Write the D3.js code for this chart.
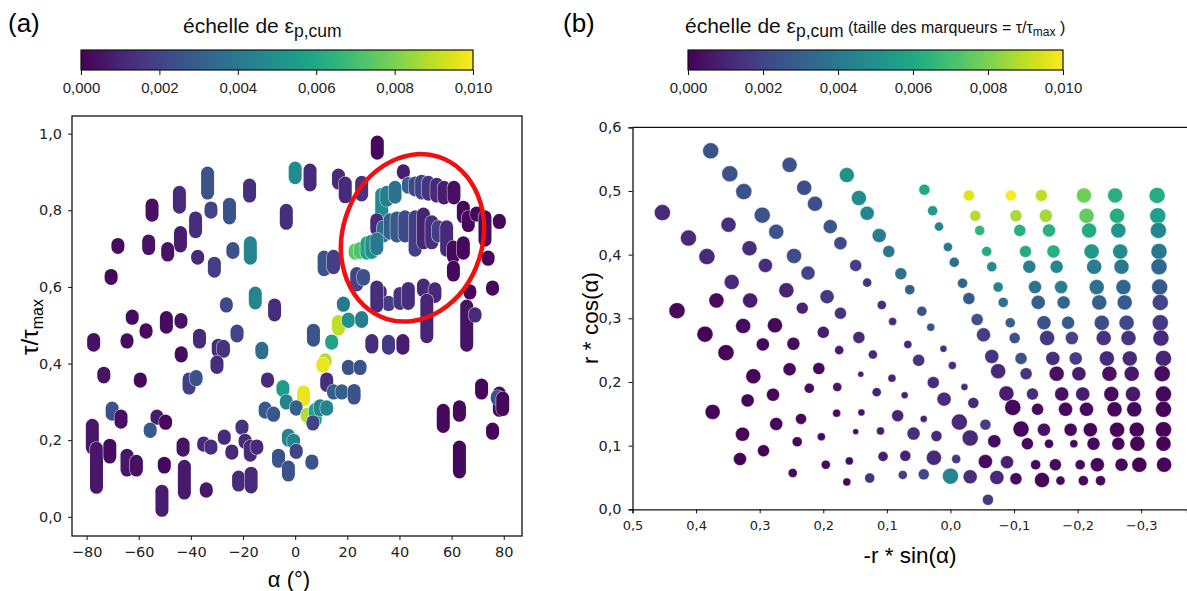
<!DOCTYPE html>
<html><head><meta charset="utf-8">
<script src="https://cdn.jsdelivr.net/npm/d3@7"></script>
<style>body{margin:0;background:#fff} svg{display:block}</style>
</head><body><svg id="c" width="1187" height="591"></svg>
<script>
// ---------- Panel (a): alpha vs tau/tau_max, each entry is a vertical run of markers ----------
const alphaA = [0.0,5.7,-33.6,-17.5,-44.4,-54.9,-32.3,-25.2,-3.4,-38.2,-44.0,-68.0,-56.2,-48.9,-23.9,-17.2,-37.4,-31.0,-70.6,-15.3,
 -26.4,-7.9,-62.5,-49.4,-43.8,-57.2,-77.3,-64.5,-36.7,-43.7,-29.5,-27.5,-22.3,-12.8,-30.0,-73.4,-59.4,-40.7,-38.0,-10.6,
 -4.7,-3.4,3.2,-11.5,-8.3,0.4,4.6,7.7,6.8,-70.2,-66.8,-53.0,-55.6,-49.7,-77.8,-76.2,-71.1,-64.5,-60.9,-50.2,
 -51.1,-43.0,-42.5,-35.1,-32.3,-34.1,-27.2,-24.3,-20.4,-19.2,-17.2,-14.7,-21.7,-16.9,-6.4,-2.6,-2.6,-0.6,0.4,6.4,
 7.0,16.6,14.0,11.5,10.6,12.1,14.7,17.9,20.4,24.9,22.6,29.4,35.8,41.3,9.6,12.1,56.8,63.0,63.0,71.5,
 75.7,78.3,77.5,79.6,31.5,16.6,19.2,25.5,41.5,33.2,35.1,38.3,43.4,46.0,48.5,51.1,54.3,57.1,60.9,64.5,
 66.4,69.6,72.8,78.3,74.0,31.3,33.8,36.4,39.0,42.1,46.0,49.2,52.4,54.9,58.1,60.7,60.7,64.5,23.0,24.9,
 27.5,29.4,31.3,23.6,26.2,32.6,35.8,40.2,43.4,49.2,53.6,50.5,65.8,67.0,75.7,69.0,20.4,25.5,18.5,11.1,14.7,31.3];
const tauLoA = [.885,.866,.845,.837,.808,.787,.795,.780,.766,.744,.707,.703,.700,.683,.690,.675,.675,.641,.622,.558,
 .550,.527,.518,.495,.508,.482,.448,.456,.456,.420,.432,.432,.472,.428,.390,.365,.354,.336,.358,.354,
 .330,.297,.305,.273,.265,.281,.262,.252,.242,.268,.247,.257,.223,.244,.180,.077,.156,.122,.122,.130,
 .017,.174,.062,.187,.179,.067,.205,.166,.231,.194,.161,.179,.083,.078,.145,.109,.200,.194,.168,.140,
 .461,.490,.453,.404,.393,.343,.323,.323,.387,.387,.310,.443,.440,.440,.280,.281,.236,.265,.117,.323,
 .218,.278,.308,.280,.949,.871,.835,.840,.897,.792,.826,.834,.860,.853,.845,.842,.837,.832,.832,.783,
 .760,.787,.722,.768,.672,.750,.733,.740,.733,.733,.696,.715,.715,.733,.696,.678,.631,.688,.688,.690,
 .688,.690,.700,.605,.620,.583,.554,.557,.557,.590,.575,.470,.448,.584,.594,.524,.510,.510,.552,.645,.650,.550];
const tauHiA = [.910,.905,.897,.866,.847,.814,.806,.816,.800,.780,.742,.711,.720,.700,.700,.715,.680,.662,.630,.584,
 .556,.553,.524,.520,.515,.488,.463,.462,.474,.428,.448,.445,.485,.440,.404,.375,.360,.360,.366,.360,
 .340,.303,.326,.284,.271,.287,.268,.280,.248,.284,.263,.263,.229,.250,.239,.179,.187,.161,.145,.140,
 .067,.190,.132,.193,.185,.073,.211,.172,.237,.200,.184,.185,.104,.114,.161,.130,.213,.200,.174,.146,
 .487,.510,.459,.410,.399,.360,.329,.329,.393,.393,.330,.460,.458,.460,.290,.287,.278,.287,.182,.344,
 .229,.323,.314,.310,.978,.892,.871,.873,.903,.842,.847,.860,.870,.871,.876,.873,.868,.860,.860,.808,
 .783,.793,.783,.774,.678,.775,.757,.775,.780,.783,.783,.790,.770,.757,.757,.704,.651,.715,.696,.700,
 .715,.720,.725,.635,.630,.589,.560,.583,.596,.605,.595,.565,.550,.590,.600,.530,.516,.520,.558,.678,.680,.600];
const epsA = [.0048,.0012,.0025,.0014,.0012,.0004,.0020,.0025,.0013,.0013,.0008,.0003,.0005,.0005,.0025,.0045,.0012,.0018,.0002,.0045,
 .0022,.0013,.0003,.0003,.0005,.0003,.0004,.0003,.0012,.0003,.0013,.0015,.0020,.0035,.0013,.0005,.0002,.0018,.0025,.0012,
 .0055,.0045,.0097,.0028,.0027,.0030,.0088,.0058,.0020,.0025,.0004,.0008,.0028,.0002,.0006,.0006,.0003,.0006,.0004,.0002,
 .0008,.0005,.0007,.0012,.0014,.0006,.0012,.0012,.0015,.0012,.0012,.0012,.0012,.0012,.0025,.0025,.0045,.0045,.0020,.0025,
 .0025,.0090,.0058,.0088,.0097,.0013,.0030,.0030,.0025,.0025,.0025,.0013,.0017,.0008,.0045,.0045,.0002,.0002,.0002,.0002,
 .0002,.0003,.0025,.0002,.0002,.0012,.0012,.0015,.0008,.0048,.0042,.0038,.0030,.0022,.0020,.0015,.0012,.0008,.0004,.0002,
 .0002,.0002,.0003,.0002,.0002,.0012,.0035,.0030,.0028,.0022,.0018,.0010,.0013,.0018,.0012,.0002,.0002,.0002,.0075,.0072,
 .0058,.0050,.0040,.0020,.0025,.0012,.0018,.0015,.0013,.0012,.0012,.0010,.0005,.0002,.0002,.0012,.0050,.0042,.0040,.0025,.0018,.0013];

// ---------- Panel (b): -r sin(alpha), r cos(alpha), marker size = tau/tau_max ----------
const xB = [0.377,0.253,0.163,0.347,0.041,0.230,0.144,0.325,0.028,0.453,0.213,0.131,0.296,0.349,0.018,0.189,0.274,0.112,0.412,0.173,
 0.316,0.097,0.383,0.246,0.291,0.149,0.224,0.078,0.344,0.131,0.064,0.258,0.194,0.368,0.315,0.430,0.233,0.108,0.173,0.045,
 0.091,0.031,0.326,0.276,0.386,0.200,0.144,0.295,0.247,0.067,0.353,0.175,0.122,0.050,0.310,0.253,0.207,0.141,0.092,0.027,
 0.222,0.178,0.279,0.116,0.072,0.319,0.374,0.179,0.140,0.083,0.042,0.274,0.235,0.327,0.149,0.110,0.058,0.022,0.203,0.241,
 0.294,0.331,0.106,0.071,0.026,0.159,0.196,0.248,0.127,0.075,0.042,0.163,
 -0.029,-0.095,-0.143,-0.210,-0.259,-0.325,-0.039,-0.103,-0.150,-0.214,-0.262,-0.326,-0.046,-0.109,-0.155,-0.218,-0.264,-0.327,
 0.004,-0.057,-0.118,-0.162,-0.222,-0.267,-0.328,-0.006,-0.065,-0.124,-0.167,-0.226,-0.269,-0.328,-0.019,-0.075,-0.133,-0.174,-0.230,-0.272,-0.329,
 -0.029,-0.083,-0.138,-0.178,-0.234,-0.274,-0.330,-0.042,-0.094,-0.147,-0.185,-0.238,-0.277,-0.330,-0.052,-0.101,-0.152,-0.191,-0.241,-0.280,-0.331,
 0.011,-0.003,-0.065,-0.111,-0.161,-0.197,-0.246,-0.282,-0.335,-0.075,-0.119,-0.167,-0.202,-0.250,-0.285,-0.333,
 -0.022,0.010,-0.088,-0.129,-0.175,-0.208,-0.253,-0.287,-0.335,-0.036,-0.098,-0.137,-0.181,-0.214,-0.258,-0.289,-0.335,
 -0.014,-0.055,-0.111,-0.147,-0.189,-0.220,-0.262,-0.293,-0.335,-0.031,-0.069,-0.121,-0.155,-0.194,-0.225,-0.264,-0.294,-0.335,
 -0.009,-0.055,-0.089,-0.134,-0.165,-0.204,-0.231,-0.269,-0.297,-0.336,0.000,-0.031,-0.073,-0.103,-0.144,-0.173,-0.209,-0.236,-0.059];
const yB = [0.563,0.541,0.525,0.527,0.502,0.505,0.489,0.499,0.469,0.466,0.480,0.465,0.462,0.447,0.444,0.444,0.436,0.430,0.426,0.418,
 0.410,0.405,0.397,0.398,0.383,0.383,0.371,0.370,0.357,0.356,0.345,0.344,0.334,0.328,0.328,0.312,0.316,0.321,0.308,0.311,
 0.295,0.286,0.288,0.289,0.275,0.278,0.270,0.259,0.260,0.259,0.246,0.250,0.243,0.234,0.209,0.220,0.221,0.212,0.206,0.199,
 0.190,0.192,0.180,0.184,0.179,0.171,0.153,0.151,0.152,0.147,0.142,0.134,0.142,0.118,0.122,0.123,0.119,0.115,0.114,0.106,
 0.092,0.079,0.083,0.084,0.081,0.076,0.070,0.057,0.049,0.054,0.055,0.043,
 0.493,0.493,0.493,0.493,0.493,0.493,0.461,0.461,0.461,0.461,0.461,0.461,0.438,0.438,0.438,0.438,0.438,0.438,
 0.412,0.405,0.405,0.405,0.405,0.405,0.405,0.388,0.381,0.381,0.381,0.381,0.381,0.381,0.355,0.349,0.349,0.349,0.349,0.349,0.349,
 0.331,0.325,0.325,0.325,0.325,0.325,0.325,0.298,0.293,0.293,0.293,0.293,0.293,0.293,0.274,0.269,0.269,0.269,0.269,0.269,0.269,
 0.252,0.226,0.240,0.237,0.237,0.237,0.237,0.237,0.237,0.217,0.213,0.213,0.213,0.213,0.213,0.213,
 0.192,0.173,0.182,0.181,0.181,0.181,0.181,0.181,0.181,0.167,0.160,0.157,0.157,0.157,0.157,0.157,0.157,
 0.137,0.133,0.126,0.125,0.125,0.125,0.125,0.125,0.125,0.112,0.107,0.103,0.103,0.103,0.103,0.103,0.103,0.103,
 0.079,0.075,0.074,0.070,0.070,0.070,0.070,0.070,0.070,0.070,0.052,0.051,0.050,0.048,0.046,0.045,0.045,0.045,0.015];
const sizeB = [1,.88,.88,1,.47,.88,.88,1,.39,1,.88,.77,1,.88,.32,.77,.88,.77,1,.66,
 .88,.56,1,.88,.77,.56,.77,.56,.88,.32,.39,.88,.77,.88,.88,1,.56,.32,.56,.39,
 .25,.25,.88,.88,1,.56,.56,.66,.66,.25,1,.32,.32,.56,.88,.66,.56,.14,.25,.56,
 .39,.32,.66,.32,.19,.66,.88,.25,.19,.56,.19,.66,.47,.77,.14,.25,.66,.47,.25,.39,
 .56,.66,.39,.47,.88,.25,.32,.32,.39,.32,.47,.25,
 .47,.47,.56,.88,.88,1,.47,.56,.66,.88,.88,1,.39,.56,.66,.88,.88,1,
 .32,.39,.56,.66,.88,.88,1,.39,.39,.66,.66,.88,.88,1,.39,.39,.66,.66,.88,.88,1,
 .56,.39,.77,.66,.88,.88,1,.56,.39,.77,.66,.88,.88,1,.77,.47,.88,.66,.88,.88,1,
 .19,.25,.77,.56,.77,.66,.88,.88,1,.88,.56,.88,.77,.88,.88,1,
 .19,.77,.88,.56,.77,.77,.88,.88,1,.47,1,.56,.77,.77,.88,.88,1,
 1,.47,1,.66,.66,.77,.88,.88,1,1,.66,.56,.32,.25,.66,.66,.88,.88,
 .32,.77,.66,.39,.56,.39,.77,.66,.88,.88,1,.77,.77,.56,.88,.32,.39,.39,.47];
const epsB = [.0025,.0025,.0050,.0025,.0060,.0024,.0048,.0025,.0055,.0012,.0024,.0045,.0025,.0013,.0045,.0027,.0025,.0042,.0012,.0022,
 .0013,.0040,.0012,.0023,.0013,.0018,.0020,.0037,.0012,.0015,.0030,.0010,.0017,.0003,.0008,.0002,.0010,.0013,.0015,.0025,
 .0012,.0025,.0002,.0002,.0001,.0008,.0012,.0002,.0003,.0010,.0001,.0008,.0012,.0015,.0001,.0002,.0002,.0008,.0010,.0013,
 .0003,.0006,.0001,.0010,.0009,.0001,.0001,.0003,.0004,.0010,.0009,.0001,.0002,.0001,.0003,.0008,.0014,.0012,.0002,.0002,
 .0001,.0001,.0008,.0009,.0012,.0002,.0002,.0002,.0015,.0018,.0022,.0002,
 .0095,.0100,.0090,.0078,.0063,.0062,.0088,.0087,.0086,.0076,.0062,.0057,.0065,.0063,.0064,.0061,.0052,.0046,
 .0040,.0061,.0061,.0063,.0054,.0048,.0040,.0037,.0048,.0043,.0046,.0042,.0040,.0033,.0033,.0045,.0038,.0042,.0037,.0033,.0028,
 .0028,.0037,.0030,.0033,.0030,.0028,.0020,.0025,.0030,.0025,.0028,.0023,.0022,.0017,.0018,.0025,.0017,.0020,.0015,.0015,.0012,
 .0013,.0013,.0015,.0025,.0013,.0018,.0012,.0012,.0010,.0011,.0015,.0004,.0008,.0004,.0006,.0003,
 .0012,.0013,.0008,.0013,.0004,.0008,.0003,.0007,.0002,.0012,.0002,.0003,.0002,.0002,.0002,.0002,.0001,
 .0011,.0018,.0002,.0005,.0002,.0001,.0001,.0001,.0001,.0012,.0003,.0002,.0002,.0002,.0002,.0002,.0001,.0001,
 .0016,.0002,.0009,.0003,.0002,.0002,.0002,.0002,.0001,.0001,.0045,.0013,.0011,.0002,.0001,.0002,.0002,.0002,.0017];

// ---------- ticks / labels ----------
const ticksAlpha = [-80,-60,-40,-20,0,20,40,60,80];
const ticksTau = [0,0.2,0.4,0.6,0.8,1.0];
const ticksXB = [0.5,0.4,0.3,0.2,0.1,0,-0.1,-0.2,-0.3];
const ticksYB = [0,0.1,0.2,0.3,0.4,0.5,0.6];
const ticksEps = [0,0.002,0.004,0.006,0.008,0.010];
const epsMax = 0.01;
// highlighted zone (data coordinates of panel a)
const zone = {alpha:45, tau:0.728, rAlpha:26.8, rTau:0.222, tilt:18};

const svg = d3.select('#c');
const color = v => d3.interpolateViridis(Math.max(0, Math.min(1, v/epsMax)));
const fmtComma = d => d3.format('.1f')(d).replace('.', ',');
const SANS = "'Liberation Sans', Arial, sans-serif";
const DV = "'DejaVu Sans', sans-serif";

// gradient
const defs = svg.append('defs');
const grad = defs.append('linearGradient').attr('id','vir').attr('x1','0').attr('x2','1').attr('y1','0').attr('y2','0');
d3.range(0,1.0001,0.05).forEach(t => grad.append('stop').attr('offset', t).attr('stop-color', d3.interpolateViridis(t)));

function colorbar(x0, x1, tx, titleExtra) {
  const s = d3.scaleLinear().domain([0, epsMax]).range([x0, x1]);
  const g = svg.append('g');
  g.append('rect').attr('x', x0).attr('y', 50).attr('width', x1-x0).attr('height', 20)
    .attr('fill','url(#vir)').attr('stroke','#111').attr('stroke-width',1.2);
  const ax = d3.axisBottom(s).tickValues(ticksEps).tickSize(5).tickPadding(7)
    .tickFormat(d => d3.format('.3f')(d).replace('.', ','));
  const ga = g.append('g').attr('transform','translate(0,70)').call(ax);
  ga.select('.domain').remove();
  ga.selectAll('text').attr('font-family', SANS).attr('font-size', 15).attr('fill','#222');
  ga.selectAll('line').attr('stroke','#111');
  const t = g.append('text').attr('x', tx).attr('y', 33).attr('font-family', SANS).attr('fill','#111');
  t.append('tspan').attr('font-size', 21).text('échelle de ε');
  t.append('tspan').attr('font-size', 17.5).attr('dy', 4).text('p,cum');
  if (titleExtra) {
    t.append('tspan').attr('font-size', 16).attr('dy', -4).text('  (taille des marqueurs = τ/τ');
    t.append('tspan').attr('font-size', 12).attr('dy', 3).text('max');
    t.append('tspan').attr('font-size', 16).attr('dy', -3).text(' )');
  }
}
colorbar(81, 473, 183, false);
colorbar(688, 1063, 685, true);

// panel letters
svg.append('text').attr('x', 8).attr('y', 32).attr('font-family', SANS).attr('font-size', 26).text('(a)');
svg.append('text').attr('x', 563).attr('y', 32).attr('font-family', SANS).attr('font-size', 26).text('(b)');

// ---------- panel (a) ----------
const xA = d3.scaleLinear().domain([-85.6, 87]).range([72, 522]);
const yA = d3.scaleLinear().domain([-0.05, 1.046]).range([536, 116]);
const gA = svg.append('g');
const pills = alphaA.map((a, i) => ({a, lo: tauLoA[i], hi: tauHiA[i], e: epsA[i]}));
const pg = gA.selectAll('g.pill').data(pills).join('g');
const pd = d => `M${xA(d.a)},${yA(d.hi)}L${xA(d.a)},${yA(d.lo)+0.01}`;
pg.append('path').attr('d', pd).attr('stroke', '#fff').attr('stroke-opacity', 0.7).attr('stroke-width', 14.2).attr('stroke-linecap','round').attr('fill','none');
pg.append('path').attr('d', pd).attr('stroke', d => color(d.e)).attr('stroke-width', 13).attr('stroke-linecap','round').attr('fill','none');

// red highlight ellipse
gA.append('ellipse')
  .attr('cx', xA(zone.alpha)).attr('cy', yA(zone.tau))
  .attr('rx', xA(zone.alpha + zone.rAlpha) - xA(zone.alpha))
  .attr('ry', yA(zone.tau - zone.rTau) - yA(zone.tau))
  .attr('transform', `rotate(${zone.tilt},${xA(zone.alpha)},${yA(zone.tau)})`)
  .attr('fill','none').attr('stroke','#f01010').attr('stroke-width', 4.5);

gA.append('rect').attr('x', 72).attr('y', 116).attr('width', 450).attr('height', 420)
  .attr('fill','none').attr('stroke','#111').attr('stroke-width', 1.3);
const axXA = gA.append('g').attr('transform','translate(0,536)')
  .call(d3.axisBottom(xA).tickValues(ticksAlpha).tickSize(4).tickPadding(7).tickFormat(d => d < 0 ? '\u2212' + (-d) : String(d)));
const axYA = gA.append('g').attr('transform','translate(72,0)')
  .call(d3.axisLeft(yA).tickValues(ticksTau).tickSize(4).tickPadding(6).tickFormat(fmtComma));
[axXA, axYA].forEach(g => { g.select('.domain').remove(); g.selectAll('text').attr('font-family', DV).attr('font-size', 14.5).attr('fill','#222'); g.selectAll('line').attr('stroke','#111'); });

gA.append('text').attr('x', 289).attr('y', 587).attr('text-anchor','middle').attr('font-family', SANS).attr('font-size', 22).text('α (°)');
const yl = gA.append('text').attr('transform','translate(38,327) rotate(-90)').attr('text-anchor','middle').attr('font-family', SANS);
yl.append('tspan').attr('font-size', 24).text('τ/τ');
yl.append('tspan').attr('font-size', 16).attr('dy', 5).text('max');

// ---------- panel (b) ----------
const xBs = d3.scaleLinear().domain([0.5, -0.372]).range([632.5, 1187]);
const yBs = d3.scaleLinear().domain([0, 0.6]).range([509.3, 127.3]);
const gB = svg.append('g');
const pts = xB.map((x, i) => ({x, y: yB[i], s: sizeB[i], e: epsB[i]}));
gB.selectAll('circle').data(pts).join('circle')
  .attr('cx', d => xBs(d.x)).attr('cy', d => yBs(d.y))
  .attr('r', d => 8 * Math.sqrt(d.s))
  .attr('fill', d => color(d.e)).attr('stroke', '#fff').attr('stroke-opacity', 0.6).attr('stroke-width', 0.6);

gB.append('line').attr('x1', 632.5).attr('x2', 1187).attr('y1', 127.3).attr('y2', 127.3).attr('stroke','#111').attr('stroke-width',1.3);
const axXB = gB.append('g').attr('transform','translate(0,509.3)')
  .call(d3.axisBottom(xBs).tickValues(ticksXB).tickSize(4).tickPadding(7).tickFormat(fmtComma));
const axYB = gB.append('g').attr('transform','translate(632.5,0)')
  .call(d3.axisLeft(yBs).tickValues(ticksYB).tickSize(4).tickPadding(7).tickFormat(fmtComma));
axXB.select('.domain').attr('stroke','#111').attr('stroke-width',1.3);
axYB.select('.domain').attr('stroke','#111').attr('stroke-width',1.3);
axXB.selectAll('text').attr('font-family', DV).attr('font-size', 13).attr('fill','#222');
axYB.selectAll('text').attr('font-family', DV).attr('font-size', 14.5).attr('fill','#222');
[axXB, axYB].forEach(g => g.selectAll('line').attr('stroke','#111'));

gB.append('text').attr('x', 910).attr('y', 563).attr('text-anchor','middle').attr('font-family', SANS).attr('font-size', 22.5).text('-r * sin(α)');
gB.append('text').attr('transform','translate(598,318) rotate(-90)').attr('text-anchor','middle').attr('font-family', SANS).attr('font-size', 22.5).text('r * cos(α)');
</script></body></html>
